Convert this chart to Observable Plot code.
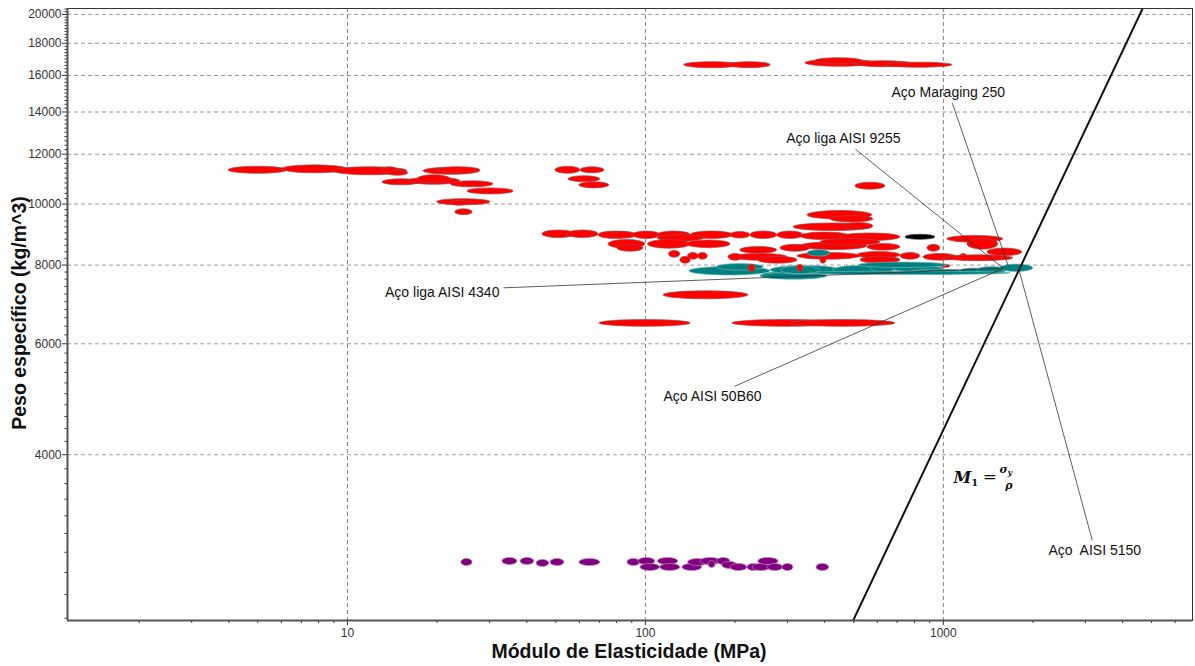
<!DOCTYPE html>
<html><head><meta charset="utf-8">
<script src="https://cdn.jsdelivr.net/npm/d3@7"></script>
<script src="https://cdn.jsdelivr.net/npm/@observablehq/plot@0.6"></script>
<style>body{margin:0;background:#fff} svg{display:block}</style>
</head><body><div id="chart"></div>
<script>
// Each material bubble: [E min, E max, rho min, rho max]
const redMaterials = [
[135, 208, 16430, 16800],[190, 263, 16430, 16800],[344, 591, 16520, 16950],[372, 535, 16670, 17045],
[507, 787, 16490, 16860],[639, 1072, 16460, 16770],
[3.99, 6.29, 11170, 11460],[6.05, 10.0, 11190, 11520],[8.97, 15.9, 11110, 11440],[13.1, 14.7, 11190, 11440],
[13.6, 16.0, 11090, 11290],[13.1, 17.6, 10710, 10950],[16.0, 23.9, 10730, 11010],[17.2, 22.2, 10790, 11110],
[18.0, 27.9, 11130, 11420],[20.0, 27.9, 11190, 11440],[22.2, 30.9, 10630, 10870],[25.3, 36.1, 10360, 10590],
[20.0, 30.2, 9955, 10180],[22.2, 25.3, 9940, 10120],[23.0, 26.3, 9600, 9810],
[49.9, 60.5, 11170, 11460],[60.5, 72.9, 11190, 11440],[55.2, 70.6, 10830, 11070],[60.0, 75.7, 10590, 10830],
[507, 639, 10540, 10810],
[45.1, 58.2, 8830, 9080],[54.7, 69.6, 8830, 9080],[69.6, 91.1, 8800, 9045],[76.3, 94.0, 8815, 9030],
[91.1, 112, 8800, 9045],[110, 142, 8800, 9045],[142, 197, 8800, 9045],[193, 225, 8815, 9030],
[225, 277, 8800, 9045],[277, 339, 8800, 9045],[331, 487, 8765, 9010],[451, 718, 8735, 8980],
[314, 578, 9060, 9315],[462, 582, 9110, 9330],[350, 578, 9450, 9750],[418, 582, 9350, 9570],
[110, 157, 8715, 8930],[75.1, 100, 8495, 8770],[102, 142, 8495, 8770],[138, 193, 8510, 8755],
[80.5, 98.5, 8400, 8615],[331, 556, 8450, 8690],[387, 615, 8590, 8800],[208, 277, 8340, 8550],
[284, 358, 8400, 8615],[197, 300, 8130, 8335],[239, 324, 8040, 8245],[190, 212, 8130, 8335],
[120, 131, 8220, 8425],[131, 142, 8040, 8245],[139, 151, 8160, 8365],[150, 162, 8160, 8365],
[515, 718, 8190, 8395],[718, 837, 8160, 8365],[857, 1114, 8130, 8335],[884, 977, 8400, 8615],
[1140, 1204, 8130, 8335],[527, 718, 8040, 8245],[1031, 1590, 8685, 8900],[1204, 1530, 8465, 8800],
[1405, 1842, 8265, 8500],[1000, 1718, 8115, 8290],[324, 527, 8160, 8365],[387, 405, 8040, 8245],
[977, 1056, 7920, 8008],[556, 718, 8435, 8645],
[115, 222, 7060, 7270],[70.1, 142, 6385, 6545],[196, 451, 6385, 6545],[307, 690, 6385, 6545]
];
const blackMaterials = [[746, 940, 8775, 8937]];
const tealMaterials = [
[140.5, 263, 7700, 7945],[174, 249, 7840, 8030],[247, 350, 7615, 7800],[243, 408, 7585, 7775],
[263, 451, 7725, 7975],[350, 418, 8255, 8450],[427, 649, 7725, 7975],[569, 701, 7785, 8030],
[680, 1000, 7785, 7970],[775, 1204, 7715, 7870],[1140, 1405, 7740, 7900],[1300, 1640, 7755, 7945],
[1554, 2004, 7800, 8015],[519, 1031, 7915, 8075],[331, 1678, 7715, 7810],[284, 387, 7740, 7960]
];
const redFront = [[222, 234, 7806, 8009],[324, 339, 7806, 8009]];
const purpleMaterials = [
[24.1, 26.3, 2663, 2733],[33.1, 37.2, 2673, 2743],[38.1, 42.4, 2673, 2743],[43.1, 47.6, 2654, 2723],
[48.0, 53.5, 2663, 2733],[60.0, 70.6, 2663, 2733],[87.0, 96.2, 2663, 2733],[94.7, 108, 2673, 2743],
[96.2, 112, 2615, 2683],[110, 129, 2673, 2743],[112, 131, 2615, 2683],[133, 155, 2615, 2683],
[139, 163, 2663, 2733],[153, 179, 2673, 2743],[163, 172, 2644, 2713],[174, 193, 2673, 2743],
[181, 204, 2635, 2703],[193, 220, 2615, 2683],[220, 243, 2615, 2683],[229, 263, 2615, 2683],
[239, 280, 2673, 2743],[257, 290, 2615, 2683],[288, 314, 2615, 2683],[375, 414, 2615, 2683]
];

// Guideline M1 (slope 1 in log-log)
const guideE = [400, 6000];
const guideRho = [1752, 26280];

// Annotations
const labels = ["Aço Maraging 250", "Aço liga AISI 9255", "Aço liga AISI 4340", "Aço AISI 50B60", "Aço\u00a0 AISI 5150"];
const labelE = [1039, 462, 20.8, 168, 3224];
const labelRho = [15055, 12722, 7242, 4950, 2818];
const leaderE = [1072, 507, 33.4, 199, 3162];
const leaderRho = [14461, 12218, 7362, 5135, 2924];
const targetE = [1653, 1590, 1590, 1590, 1785];
const targetRho = [7964, 7907, 7907, 7907, 7935];

// Ticks
const xTicks = [10, 100, 1000];
const yTicks = [4000, 6000, 8000, 10000, 12000, 14000, 16000, 18000, 20000];
const xMinor = [1, 10, 100, 1000].flatMap(d => [2,3,4,5,6,7,8,9].map(k => k*d)).filter(v => v < 6860);
const yMinor = d3.range(2200, 20401, 200).filter(v => v % 2000 !== 0);

const xDomain = [1.149, 6860];
const yDomain = [2182, 20440];

const toRect = arr => arr.map(([e1, e2, r1, r2]) => ({e1, e2, r1, r2}));
const ell = (arr, fill, stroke) => Plot.rect(toRect(arr), {
  x1: "e1", x2: "e2", y1: "r1", y2: "r2", fill, stroke, strokeWidth: 0.7, rx: 10000, ry: 10000
});
const ann = labels.map((t, i) => ({t, x: labelE[i], y: labelRho[i], x1: leaderE[i], y1: leaderRho[i], x2: targetE[i], y2: targetRho[i]}));
const guide = guideE.map((e, i) => ({e, r: guideRho[i]}));

const chart = Plot.plot({
  width: 1195, height: 666,
  marginLeft: 67, marginRight: 3, marginTop: 8, marginBottom: 46,
  x: {type: "log", domain: xDomain},
  y: {type: "log", domain: yDomain},
  style: {fontFamily: "'Liberation Sans', Arial, sans-serif", fontSize: "12px", color: "#333", background: "#fff"},
  marks: [
    Plot.ruleX(xTicks, {stroke: "#808080", strokeDasharray: "4,3", strokeWidth: 1}),
    Plot.ruleY(yTicks, {stroke: "#9a9a9a", strokeDasharray: "4,3", strokeWidth: 1}),
    ell(redMaterials, "#ff0000", "#a04848"),
    ell(blackMaterials, "#000000", "#333"),
    ell(tealMaterials, "#008080", "#6fb5b5"),
    ell(redFront, "#ff0000", "#a04848"),
    ell(purpleMaterials, "#800080", "#b883b8"),
    Plot.line(guide, {x: "e", y: "r", stroke: "#111", strokeWidth: 2, clip: true}),
    Plot.link(ann, {x1: "x1", y1: "y1", x2: "x2", y2: "y2", stroke: "#333", strokeWidth: 0.8}),
    Plot.text(ann, {x: "x", y: "y", text: "t", fontSize: 14, fill: "#111", textAnchor: "middle"}),
    Plot.axisX(xTicks, {tickSize: 5, tickPadding: 3, tickFormat: d => String(d), label: null, stroke: "#333", fill: "#333"}),
    Plot.axisX(xMinor, {tickSize: 3, tickFormat: () => "", label: null, stroke: "#333"}),
    Plot.axisY(yTicks, {tickSize: 5, tickPadding: 1, tickFormat: d => String(d), label: null, stroke: "#333", fill: "#333"}),
    Plot.axisY(yMinor, {tickSize: 2.5, tickFormat: () => "", label: null, stroke: "#333"}),
    Plot.frame({stroke: "#333", strokeWidth: 1}),
    Plot.ruleX([xDomain[0]], {stroke: "#555", strokeWidth: 2}),
    Plot.ruleY([yDomain[0]], {stroke: "#555", strokeWidth: 2})
  ]
});

const svg = d3.select(chart);
svg.append("text").attr("x", 629).attr("y", 658).attr("text-anchor", "middle")
  .attr("font-family", "'Liberation Sans', Arial, sans-serif").attr("font-weight", "bold").attr("font-size", 19.5).attr("fill", "#111")
  .text("Módulo de Elasticidade (MPa)");
svg.append("text").attr("transform", "translate(26,313) rotate(-90)").attr("text-anchor", "middle")
  .attr("font-family", "'Liberation Sans', Arial, sans-serif").attr("font-weight", "bold").attr("font-size", 19.5).attr("fill", "#111")
  .text("Peso específico (kg/m^3)");

// Formula M1 = sigma_y / rho
const sx = chart.scale("x"), sy = chart.scale("y");
const fx = sx.apply(1097) + 11, fy = sy.apply(3597);
const g = svg.append("g").attr("font-family", "'DejaVu Serif', 'Liberation Serif', serif").attr("font-weight", "bold").attr("fill", "#111");
const t1 = g.append("text").attr("x", fx).attr("y", fy).attr("font-size", 16).attr("font-style", "italic");
t1.append("tspan").text("M");
t1.append("tspan").attr("font-size", 10).attr("font-style", "normal").attr("dy", 3).text("1");
g.append("text").attr("x", fx + 24).attr("y", fy - 1).attr("font-size", 17).attr("font-weight", "normal").text("=");
const num = g.append("text").attr("x", fx + 40).attr("y", fy - 10).attr("font-size", 11).attr("font-style", "italic");
num.append("tspan").text("σ");
num.append("tspan").attr("font-size", 8).attr("dy", 2).text("y");
g.append("text").attr("x", fx + 43).attr("y", fy + 6).attr("font-size", 11).attr("font-style", "italic").text("ρ");

document.getElementById("chart").appendChild(chart);
</script>
</body></html>
